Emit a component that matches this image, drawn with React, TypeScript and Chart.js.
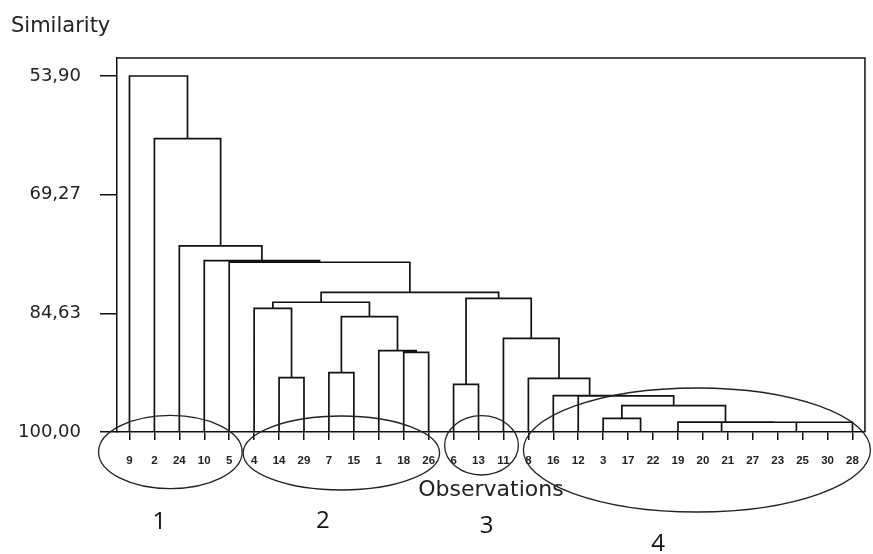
import React, { useEffect, useRef } from 'react';
import { Chart, registerables } from 'chart.js';

Chart.register(...registerables);

// Leaf order along the x axis
const observations = ['9', '2', '24', '10', '5', '4', '14', '29', '7', '15', '1', '18', '26', '6', '13', '11', '8', '16', '12', '3', '17', '22', '19', '20', '21', '27', '23', '25', '30', '28'];

// Agglomeration steps: children (leaf label or m<index>) and similarity level
const mergeLeft = ['14', '4', '7', '18', '1', 'm2', 'm1', '6', '17', '3', '25', '23', 'm11', '21', '20', 'm14', '19', 'm9', '12', '16', '8', '11', 'm7', 'm6', '5', '10', '24', '2', '9'];
const mergeRight = ['29', 'm0', '15', '26', 'm3', 'm4', 'm5', '13', '22', 'm8', '30', 'm10', '28', '27', 'm13', 'm12', 'm15', 'm16', 'm17', 'm18', 'm19', 'm20', 'm21', 'm22', 'm23', 'm24', 'm25', 'm26', 'm27'];
const mergeSimilarity = [92.97, 83.98, 92.32, 89.68, 89.47, 85.07, 83.2, 93.82, 100, 98.23, 100, 100, 98.74, 100, 100, 98.74, 98.72, 96.59, 95.32, 95.28, 93.05, 87.87, 82.69, 81.91, 78.02, 77.82, 75.91, 62.02, 53.9];

// Axis
const similarityTicks = [53.9, 69.27, 84.63, 100.0];
const similarityTop = 51.57;
const similarityBottom = 100;

// Hand-drawn group ellipses (in axis units) and their labels
const groupLabels = ['1', '2', '3', '4'];
const groupFrom = [-1.24, 4.56, 12.64, 15.8];
const groupTo = [4.52, 12.44, 15.6, 29.72];
const groupTop = [97.86, 97.93, 97.89, 94.3];
const groupBottom = [107.32, 107.51, 105.57, 110.36];
const groupLabelX = [1.2, 7.76, 14.32, 21.2];
const groupLabelY = [111.65, 111.53, 112.17, 114.5];

function buildDendrogram() {
  const pos: { x: number; y: number }[] = [];
  const node = (ref: string) => {
    if (ref.startsWith('m')) return pos[parseInt(ref.slice(1), 10)];
    return { x: observations.indexOf(ref), y: 100 };
  };
  const pts: { x: number; y: number | null }[] = [];
  mergeSimilarity.forEach((s, i) => {
    const a = node(mergeLeft[i]);
    const b = node(mergeRight[i]);
    pts.push({ x: a.x, y: a.y }, { x: a.x, y: s }, { x: b.x, y: s }, { x: b.x, y: b.y }, { x: b.x, y: null });
    pos[i] = { x: (a.x + b.x) / 2, y: s };
  });
  return pts;
}

const extras = {
  id: 'extras',
  afterDraw(chart: any) {
    const { ctx, chartArea: a, scales } = chart;
    const x = scales.x;
    const y = scales.y;
    ctx.save();
    ctx.strokeStyle = '#111';
    ctx.lineWidth = 1.5;
    ctx.beginPath();
    ctx.moveTo(a.left, a.top);
    ctx.lineTo(a.right, a.top);
    ctx.lineTo(a.right, a.bottom);
    ctx.stroke();

    groupLabels.forEach((g, i) => {
      const x1 = x.getPixelForValue(groupFrom[i]);
      const x2 = x.getPixelForValue(groupTo[i]);
      const y1 = y.getPixelForValue(groupTop[i]);
      const y2 = y.getPixelForValue(groupBottom[i]);
      ctx.strokeStyle = '#222';
      ctx.lineWidth = 1.3;
      ctx.beginPath();
      ctx.ellipse((x1 + x2) / 2, (y1 + y2) / 2, Math.abs(x2 - x1) / 2, Math.abs(y2 - y1) / 2, 0, 0, Math.PI * 2);
      ctx.stroke();
      ctx.fillStyle = '#111';
      ctx.font = '24px "Open Sans"';
      ctx.textAlign = 'center';
      ctx.textBaseline = 'middle';
      ctx.fillText(g, x.getPixelForValue(groupLabelX[i]), y.getPixelForValue(groupLabelY[i]));
    });

    ctx.font = '21px "DejaVu Sans"';
    ctx.textAlign = 'left';
    ctx.textBaseline = 'alphabetic';
    ctx.fillStyle = '#222';
    ctx.fillText('Similarity', 11, a.top - 26);
    ctx.restore();
  },
};

export default function App() {
  const ref = useRef<HTMLCanvasElement>(null);
  useEffect(() => {
    const chart = new Chart(ref.current as HTMLCanvasElement, {
      type: 'scatter',
      data: {
        datasets: [
          {
            label: 'Dendrogram',
            data: buildDendrogram() as any,
            showLine: true,
            spanGaps: false,
            pointRadius: 0,
            borderColor: '#111',
            borderWidth: 1.7,
            fill: false,
            tension: 0,
          } as any,
        ],
      },
      options: {
        animation: false,
        responsive: false,
        devicePixelRatio: 1,
        layout: { padding: { top: 58, right: 7, left: 0, bottom: 0 } },
        plugins: { legend: { display: false }, tooltip: { enabled: false } },
        scales: {
          x: {
            type: 'linear',
            min: -0.5,
            max: 29.5,
            afterBuildTicks: (s: any) => {
              s.ticks = observations.map((_, i) => ({ value: i }));
            },
            afterFit: (s: any) => {
              s.height = 122;
            },
            ticks: {
              autoSkip: false,
              maxRotation: 0,
              minRotation: 0,
              padding: 14,
              color: '#222',
              font: { family: 'Liberation Sans', size: 11.5, weight: 'bold' },
              callback: (v: any) => observations[v as number] ?? '',
            },
            grid: { display: true, drawOnChartArea: false, drawTicks: true, tickLength: 8, color: '#111', lineWidth: 1.5 },
            border: { display: true, color: '#111', width: 1.5 },
            title: {
              display: true,
              text: 'Observations',
              color: '#222',
              font: { family: 'DejaVu Sans', size: 22 },
              padding: { top: 0, bottom: 50.8 },
            },
          },
          y: {
            type: 'linear',
            reverse: true,
            min: similarityTop,
            max: similarityBottom,
            afterBuildTicks: (s: any) => {
              s.ticks = similarityTicks.map((v) => ({ value: v }));
            },
            afterFit: (s: any) => {
              s.width = 117;
            },
            ticks: {
              padding: 19,
              color: '#222',
              font: { family: 'DejaVu Sans', size: 18 },
              callback: (v: any) => Number(v).toFixed(2).replace('.', ','),
            },
            grid: { display: true, drawOnChartArea: false, drawTicks: true, tickLength: 17, color: '#111', lineWidth: 1.5 },
            border: { display: true, color: '#111', width: 1.5 },
          },
        },
      },
      plugins: [extras],
    });
    return () => chart.destroy();
  }, []);
  return (
    <div style={{ position: 'fixed', left: 0, top: 0, width: 873, height: 554, background: '#fff' }}>
      <canvas ref={ref} width={873} height={554} style={{ width: 873, height: 554, display: 'block' }} />
    </div>
  );
}
